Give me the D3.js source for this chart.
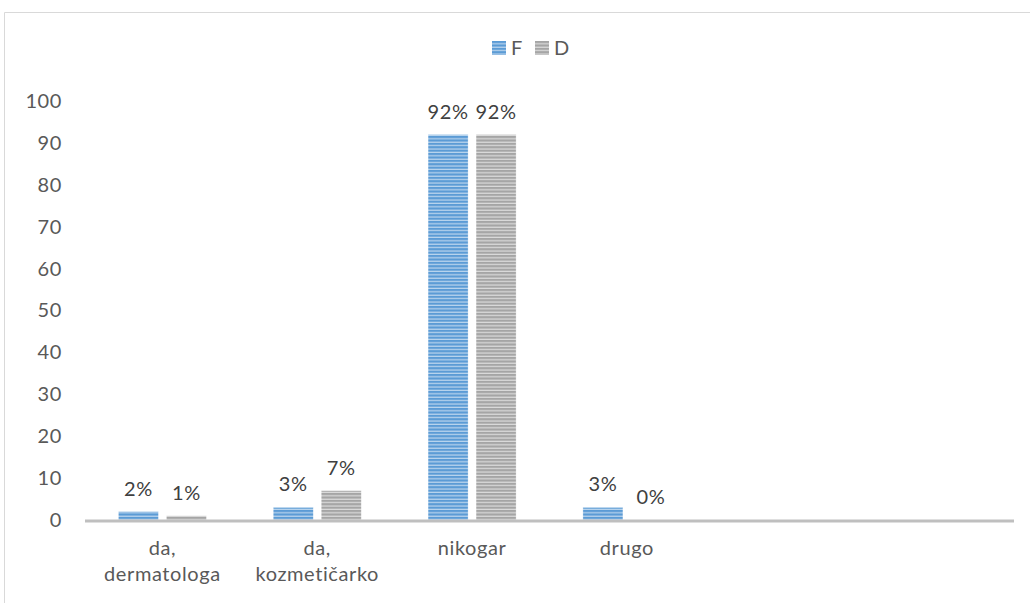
<!DOCTYPE html>
<html>
<head>
<meta charset="utf-8">
<script src="https://cdn.jsdelivr.net/npm/d3@7"></script>
<style>
  html, body { margin: 0; padding: 0; background: #fff; }
  svg { display: block; font-family: Lato, "Open Sans", "Liberation Sans", sans-serif; }
</style>
</head>
<body>
<svg id="chart" width="1030" height="603"></svg>
<script>
// Answer categories (last two slots are empty on the axis)
const categories = [["da,", "dermatologa"], ["da,", "kozmetičarko"], ["nikogar"], ["drugo"], [""], [""]];
const categoryKeys = ["c1", "c2", "c3", "c4", "c5", "c6"];
const seriesNames = ["F", "D"];
const valuesF = [2, 3, 92, 3];
const valuesD = [1, 7, 92, 0];
const yTicks = [0, 10, 20, 30, 40, 50, 60, 70, 80, 90, 100];

const svg = d3.select("#chart");
const defs = svg.append("defs");

// Horizontal stripe fills for each series
function stripes(id, dark, light) {
  const p = defs.append("pattern")
    .attr("id", id).attr("patternUnits", "userSpaceOnUse")
    .attr("width", 8).attr("height", 3.4);
  p.append("rect").attr("width", 8).attr("height", 3.4).attr("fill", light);
  p.append("rect").attr("width", 8).attr("height", 2.2).attr("fill", dark);
}
stripes("stripeF", "#5b9bd5", "#bcd6ee");
stripes("stripeD", "#a5a5a5", "#dcdcdc");
const fills = { F: "url(#stripeF)", D: "url(#stripeD)" };

// Chart frame (extends past the visible area on right/bottom)
svg.append("path")
  .attr("d", "M4.5,603 V12.5 H1030")
  .attr("fill", "none").attr("stroke", "#d9d9d9").attr("stroke-width", 1);

const x0 = d3.scaleBand().domain(categoryKeys).range([85, 1014]).padding(0);
const x1 = d3.scaleBand().domain(seriesNames).range([0, 88]).paddingInner(8 / 48).paddingOuter(0);
const y = d3.scaleLinear().domain([0, 100]).range([520, 101]);

const textStyle = sel => sel.attr("font-size", 20).attr("letter-spacing", 0.6)
  .attr("font-family", "Lato, 'Open Sans', sans-serif");

// Y axis labels (no axis line)
const yAxis = svg.append("g")
  .attr("transform", "translate(62,0)")
  .call(d3.axisLeft(y).tickValues(yTicks).tickSize(0).tickPadding(0).tickFormat(d3.format("d")));
yAxis.select(".domain").remove();
yAxis.selectAll("text").call(textStyle).attr("fill", "#595959");

const data = seriesNames.map((s, si) => ({
  name: s,
  values: (si === 0 ? valuesF : valuesD).map((v, i) => ({ key: categoryKeys[i], v }))
}));

const groups = svg.selectAll("g.series").data(data).join("g").attr("class", "series");

groups.selectAll("rect").data(d => d.values.map(e => ({ ...e, s: d.name }))).join("rect")
  .attr("x", d => x0(d.key) + x0.bandwidth() / 2 - 44 + x1(d.s))
  .attr("width", x1.bandwidth())
  .attr("y", d => y(d.v))
  .attr("height", d => y(0) - y(d.v))
  .attr("fill", d => fills[d.s])
  .attr("stroke", "#ffffff").attr("stroke-opacity", 0.5).attr("stroke-width", 0.6);

// Value labels
groups.selectAll("text.val").data(d => d.values.map(e => ({ ...e, s: d.name }))).join("text")
  .attr("class", "val")
  .attr("x", d => x0(d.key) + x0.bandwidth() / 2 - 44 + x1(d.s) + x1.bandwidth() / 2)
  .attr("y", d => y(d.v) - 16)
  .attr("text-anchor", "middle")
  .call(textStyle).attr("fill", "#404040")
  .text(d => d.v + "%");

// X axis line
svg.append("line")
  .attr("x1", x0.range()[0]).attr("x2", x0.range()[1])
  .attr("y1", y(0) + 1).attr("y2", y(0) + 1)
  .attr("stroke", "#bfbfbf").attr("stroke-width", 3);

// Category labels
const catG = svg.selectAll("text.cat").data(categories).join("text")
  .attr("class", "cat")
  .attr("x", (d, i) => x0(categoryKeys[i]) + x0.bandwidth() / 2)
  .attr("y", 555)
  .attr("text-anchor", "middle")
  .call(textStyle).attr("fill", "#595959");
catG.selectAll("tspan").data(d => d).join("tspan")
  .attr("x", function () { return d3.select(this.parentNode).attr("x"); })
  .attr("dy", (d, i) => i === 0 ? 0 : 26)
  .text(d => d);

// Legend
const legend = svg.append("g").attr("transform", "translate(492,41)");
const legendX = { F: 0, D: 43 };
seriesNames.forEach(s => {
  const g = legend.append("g").attr("transform", `translate(${legendX[s]},0)`);
  g.append("rect").attr("width", 14).attr("height", 14).attr("fill", fills[s]);
  g.append("text").attr("x", 19).attr("y", 14).call(textStyle).attr("fill", "#595959").text(s);
});
</script>
</body>
</html>
